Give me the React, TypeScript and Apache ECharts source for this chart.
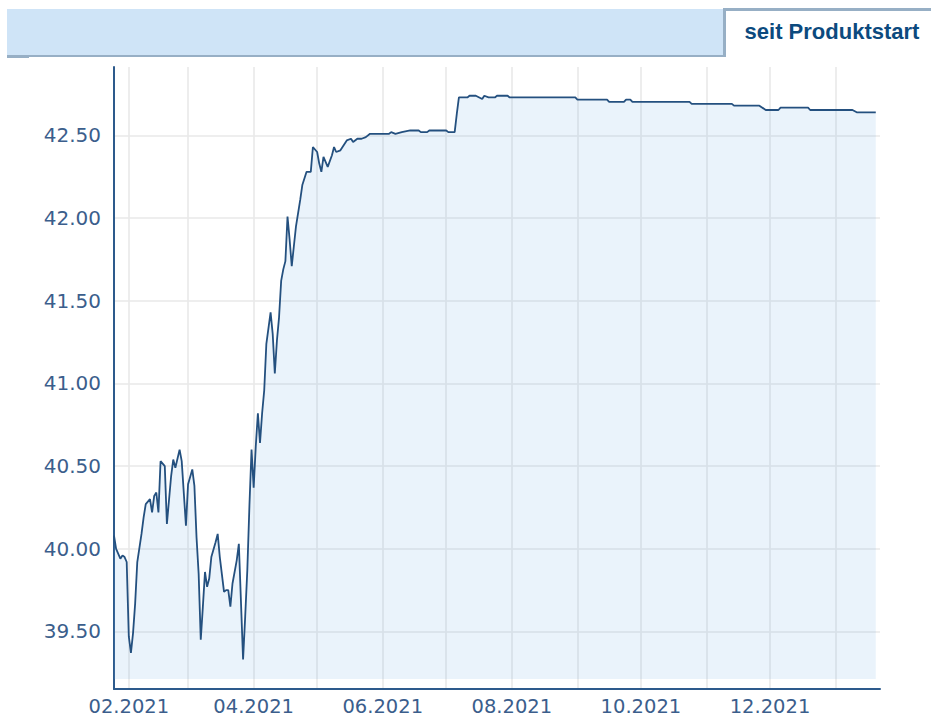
import { useEffect, useRef } from 'react';
import * as echarts from 'echarts';

const DAY = 86400000;
// product start 2021-01-25; x offsets are days since that date
const START = Date.UTC(2021, 0, 25);
const X_MAX_DAYS = 362;

const dayOffsets = [
  0, 1, 3, 4, 5, 6, 7, 8, 9, 10, 11, 13, 14, 15, 17, 18, 19, 20, 21, 22, 24, 25, 27, 28, 29, 31, 32, 34, 35, 37,
  38, 39, 40, 41, 42, 43, 44, 45, 46, 48, 49, 50, 52, 53, 54, 55, 56, 58, 59, 61, 62, 63, 64, 65, 66, 67, 68, 69,
  70, 71, 72, 74, 75, 76, 77, 78, 79, 80, 81, 82, 83, 84, 85, 86, 88, 89, 91, 93, 94, 96, 97, 98, 99, 100, 101,
  103, 104, 105, 107, 109, 110, 112, 113, 115, 117, 119, 121, 130, 131, 133, 136, 140, 142, 144, 145, 148, 149,
  157, 158, 161, 162, 163, 167, 168, 171, 174, 175, 177, 180, 181, 186, 187, 218, 219, 233, 234, 241, 242, 244,
  245, 272, 273, 292, 293, 305, 308, 314, 315, 328, 329, 349, 351, 360,
];

const prices = [
  40.08, 40.0, 39.94, 39.96, 39.95, 39.92, 39.47, 39.37, 39.49, 39.67, 39.92, 40.09, 40.19, 40.27, 40.3, 40.22,
  40.32, 40.34, 40.22, 40.53, 40.5, 40.15, 40.44, 40.54, 40.49, 40.6, 40.53, 40.14, 40.39, 40.48,
  40.38, 40.07, 39.85, 39.45, 39.65, 39.86, 39.77, 39.82, 39.95, 40.04, 40.09, 39.95, 39.74, 39.75, 39.75, 39.65,
  39.79, 39.93, 40.03, 39.33, 39.59, 39.87, 40.26, 40.6, 40.37, 40.62, 40.82, 40.64,
  40.82, 40.96, 41.24, 41.43, 41.3, 41.06, 41.26, 41.4, 41.62, 41.69, 41.74, 42.01, 41.87, 41.71, 41.83, 41.95,
  42.11, 42.2, 42.28, 42.28, 42.43, 42.4, 42.33, 42.28, 42.37, 42.34, 42.31,
  42.38, 42.43, 42.4, 42.41, 42.45, 42.47, 42.48, 42.46, 42.48, 42.48, 42.49, 42.51, 42.51, 42.52, 42.51, 42.52,
  42.53, 42.53, 42.53, 42.52, 42.52, 42.53,
  42.53, 42.52, 42.52, 42.63, 42.73, 42.73, 42.74, 42.74, 42.72, 42.74, 42.73, 42.73, 42.74, 42.74, 42.73, 42.73,
  42.717, 42.717, 42.703, 42.703, 42.717, 42.717,
  42.703, 42.703, 42.691, 42.691, 42.68, 42.68, 42.654, 42.654, 42.668, 42.668, 42.654, 42.654, 42.64, 42.64,
];

// month gridlines (year, month index)
const gridMonths: [number, number][] = [
  [2021, 1], [2021, 2], [2021, 3], [2021, 4], [2021, 5], [2021, 6],
  [2021, 7], [2021, 8], [2021, 9], [2021, 10], [2021, 11], [2022, 0],
];
const labelMonths: [number, number][] = [
  [2021, 1], [2021, 3], [2021, 5], [2021, 7], [2021, 9], [2021, 11],
];

const yTicks = [39.5, 40.0, 40.5, 41.0, 41.5, 42.0, 42.5];
const Y_MIN = 39.152;
const Y_MAX = 42.914;
const AREA_BASE = 39.213;

const TAB_TITLE = 'seit Produktstart';

export default function App() {
  const ref = useRef<HTMLDivElement>(null);

  useEffect(() => {
    if (!ref.current) return;
    const chart = echarts.init(ref.current, undefined, { renderer: 'svg' });

    const seriesData = dayOffsets.map((d, i) => [START + d * DAY, prices[i]]);
    const gridTs = gridMonths.map(([y, m]) => Date.UTC(y, m, 1));
    const labelTs = labelMonths.map(([y, m]) => Date.UTC(y, m, 1));

    const axisColor = '#2d5a8c';
    const labelColor = '#3b5e8c';
    const borderColor = '#97afc5';
    const gridColor = '#e9e9e9';

    chart.setOption({
      animation: false,
      backgroundColor: '#ffffff',
      grid: { left: 114, right: 51, top: 67, bottom: 29, containLabel: false },
      xAxis: {
        type: 'value',
        min: START,
        max: START + X_MAX_DAYS * DAY,
        axisLine: { show: true, onZero: false, lineStyle: { color: axisColor, width: 2 } },
        axisTick: { show: false, customValues: gridTs },
        axisLabel: {
          customValues: labelTs,
          color: labelColor,
          fontFamily: '"DejaVu Sans", Verdana, sans-serif',
          fontSize: 19.5,
          lineHeight: 16,
          margin: 9,
          formatter: (v: number) => {
            const d = new Date(v);
            return String(d.getUTCMonth() + 1).padStart(2, '0') + '.' + d.getUTCFullYear();
          },
        },
        splitLine: { show: true, lineStyle: { color: gridColor, width: 1.6 } },
      },
      yAxis: {
        type: 'value',
        min: Y_MIN,
        max: Y_MAX,
        axisLine: { show: true, onZero: false, lineStyle: { color: axisColor, width: 2 } },
        axisTick: { show: false, customValues: yTicks },
        axisLabel: {
          customValues: yTicks,
          color: labelColor,
          fontFamily: '"DejaVu Sans", Verdana, sans-serif',
          fontSize: 20,
          margin: 13,
          formatter: (v: number) => v.toFixed(2),
        },
        splitLine: { show: true, lineStyle: { color: gridColor, width: 1.6 } },
      },
      series: [
        {
          type: 'line',
          data: seriesData,
          showSymbol: false,
          symbol: 'none',
          lineStyle: { color: '#24507f', width: 1.8 },
          areaStyle: { color: 'rgba(110,172,225,0.21)', origin: AREA_BASE },
          z: 3,
        },
      ],
      graphic: [
        { type: 'rect', shape: { x: 7, y: 9, width: 717, height: 47 }, style: { fill: '#cfe4f7' } },
        { type: 'rect', shape: { x: 7, y: 55, width: 719, height: 2 }, style: { fill: borderColor } },
        { type: 'rect', shape: { x: 7, y: 55, width: 22, height: 3 }, style: { fill: borderColor } },
        { type: 'rect', shape: { x: 723, y: 8, width: 3, height: 49 }, style: { fill: borderColor } },
        { type: 'rect', shape: { x: 723, y: 8, width: 208, height: 3 }, style: { fill: borderColor } },
        {
          type: 'text',
          x: 832,
          y: 31,
          style: {
            text: TAB_TITLE,
            fill: '#0c4a7e',
            font: 'bold 22px "Liberation Sans", Arial, sans-serif',
            align: 'center',
            verticalAlign: 'middle',
            textAlign: 'center',
            textVerticalAlign: 'middle',
          },
        },
      ],
    });

    return () => chart.dispose();
  }, []);

  return (
    <div
      ref={ref}
      style={{ position: 'fixed', left: 0, top: 0, width: 931, height: 718, background: '#fff' }}
    />
  );
}
